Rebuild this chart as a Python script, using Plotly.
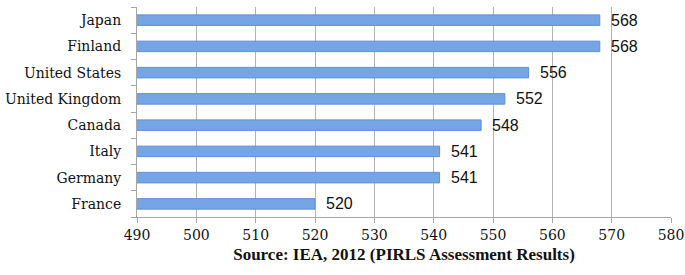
import plotly.graph_objects as go

countries = ["Japan", "Finland", "United States", "United Kingdom", "Canada", "Italy", "Germany", "France"]
scores = [568, 568, 556, 552, 548, 541, 541, 520]
x_ticks = [490, 500, 510, 520, 530, 540, 550, 560, 570, 580]
x_title = "Source: IEA, 2012 (PIRLS Assessment Results)"

serif = "'DejaVu Serif', serif"
title_serif = "'Liberation Serif', serif"
sans = "'Liberation Sans', Arial, sans-serif"

fig = go.Figure()
fig.add_trace(go.Bar(
    y=countries, x=scores, orientation="h",
    marker=dict(color="#76a5e6", line=dict(color="#5f8fd6", width=1)),
    width=0.4,
    hoverinfo="skip",
))
for c, v in zip(countries, scores):
    fig.add_annotation(x=v, y=c, text=str(v), showarrow=False, xanchor="left",
                       xshift=9, font=dict(family=sans, size=16, color="#111"))

fig.update_layout(
    width=685, height=275,
    margin=dict(l=137, r=14, t=7, b=58),
    plot_bgcolor="white", paper_bgcolor="white",
    showlegend=False,
)
fig.update_xaxes(
    range=[490, 580], tickvals=x_ticks, ticktext=[str(t) for t in x_ticks],
    showgrid=True, gridcolor="#b3b3b3", gridwidth=1,
    showline=True, linecolor="#a6a6a6", linewidth=1,
    ticks="outside", ticklen=5, tickcolor="#a6a6a6",
    tickfont=dict(family=serif, size=14, color="#111"),
    title=dict(text="<b>" + x_title + "</b>", font=dict(family=title_serif, size=17, color="#111"), standoff=6),
    zeroline=False, automargin=False,
)
fig.update_yaxes(
    categoryorder="array", categoryarray=countries[::-1],
    showline=True, linecolor="#a6a6a6", linewidth=1,
    ticks="outside", ticklen=5, tickcolor="#a6a6a6", tickson="boundaries",
    tickfont=dict(family=serif, size=14, color="#111"),
    ticklabelstandoff=12,
    showgrid=False, automargin=False,
)
fig.write_html("out.html", config={"displayModeBar": False},
               post_script="document.body.style.margin='0';")
